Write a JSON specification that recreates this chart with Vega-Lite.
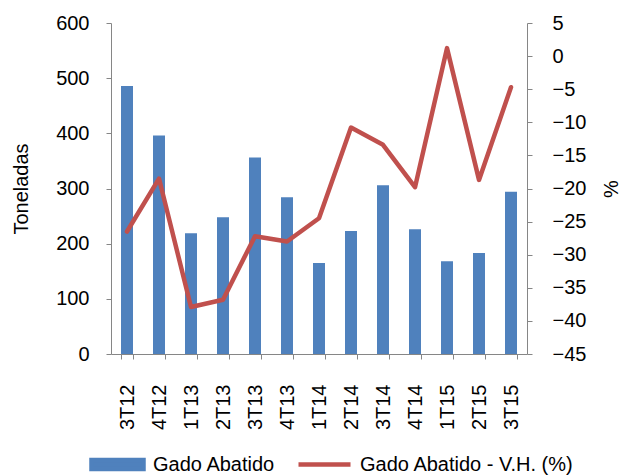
{
  "$schema": "https://vega.github.io/schema/vega-lite/v6.json",
  "width": 416,
  "height": 331,
  "autosize": "none",
  "padding": {"left": 111, "top": 23, "right": 99, "bottom": 122},
  "background": "white",
  "config": {
    "view": {"stroke": null},
    "font": "Liberation Sans",
    "axis": {
      "labelFont": "Liberation Sans",
      "titleFont": "Liberation Sans",
      "labelFontSize": 20,
      "titleFontSize": 20,
      "titleFontWeight": "normal",
      "labelColor": "#000000",
      "titleColor": "#000000",
      "domainColor": "#868686",
      "tickColor": "#868686",
      "tickSize": 5,
      "grid": false
    }
  },
  "data": {
    "values": [
      {"p": "3T12", "g": 486, "v": -26.5},
      {"p": "4T12", "g": 396, "v": -18.5},
      {"p": "1T13", "g": 219, "v": -37.9},
      {"p": "2T13", "g": 248, "v": -36.8},
      {"p": "3T13", "g": 356, "v": -27.2},
      {"p": "4T13", "g": 284, "v": -28.0},
      {"p": "1T14", "g": 165, "v": -24.5},
      {"p": "2T14", "g": 223, "v": -10.8},
      {"p": "3T14", "g": 306, "v": -13.4},
      {"p": "4T14", "g": 226, "v": -19.8},
      {"p": "1T15", "g": 168, "v": 1.2},
      {"p": "2T15", "g": 183, "v": -18.7},
      {"p": "3T15", "g": 294, "v": -4.7}
    ]
  },
  "encoding": {
    "x": {
      "field": "p",
      "type": "nominal",
      "sort": null,
      "scale": {"paddingInner": 0.625, "paddingOuter": 0.3125},
      "axis": {
        "title": null,
        "labelAngle": -90,
        "labelPadding": 25,
        "tickBand": "extent"
      }
    }
  },
  "layer": [
    {
      "mark": {"type": "bar", "color": "#4F81BD"},
      "encoding": {
        "y": {
          "field": "g",
          "type": "quantitative",
          "scale": {"domain": [0, 600], "nice": false},
          "axis": {
            "title": "Toneladas",
            "values": [0, 100, 200, 300, 400, 500, 600],
            "labelPadding": 17,
            "titlePadding": 24
          }
        },
        "color": {
          "datum": "Gado Abatido",
          "scale": {
            "domain": ["Gado Abatido", "Gado Abatido - V.H. (%)"],
            "range": ["#4F81BD", "#C0504D"]
          },
          "legend": {
            "title": null,
            "orient": "none",
            "direction": "horizontal",
            "gridAlign": "none",
            "legendX": -22,
            "legendY": 413,
            "labelFont": "Liberation Sans",
            "labelFontSize": 20,
            "labelLimit": 400,
            "labelColor": "#000000",
            "labelOffset": 7,
            "columnPadding": 13,
            "symbolSize": 2704,
            "symbolStrokeWidth": 4.5,
            "encode": {
              "symbols": {
                "update": {
                  "shape": {"signal": "datum.value === 'Gado Abatido' ? 'M-1,-0.17H1V0.17H-1Z' : 'M-1,0H1'"},
                  "fill": {"signal": "datum.value === 'Gado Abatido' ? '#4F81BD' : 'transparent'"},
                  "stroke": {"signal": "datum.value === 'Gado Abatido' ? 'transparent' : '#C0504D'"},
                  "strokeWidth": {"value": 4.5},
                  "opacity": {"value": 1}
                }
              }
            }
          }
        }
      }
    },
    {
      "mark": {"type": "line", "strokeWidth": 4.5, "strokeCap": "round", "strokeJoin": "round"},
      "encoding": {
        "y": {
          "field": "v",
          "type": "quantitative",
          "scale": {"domain": [-45, 5], "nice": false, "zero": false},
          "axis": {
            "title": "%",
            "orient": "right",
            "values": [-45, -40, -35, -30, -25, -20, -15, -10, -5, 0, 5],
            "labelAlign": "left",
            "labelPadding": 20,
            "titlePadding": 36,
            "titleAngle": -90
          }
        },
        "color": {"datum": "Gado Abatido - V.H. (%)"}
      }
    }
  ],
  "resolve": {"scale": {"y": "independent"}}
}
